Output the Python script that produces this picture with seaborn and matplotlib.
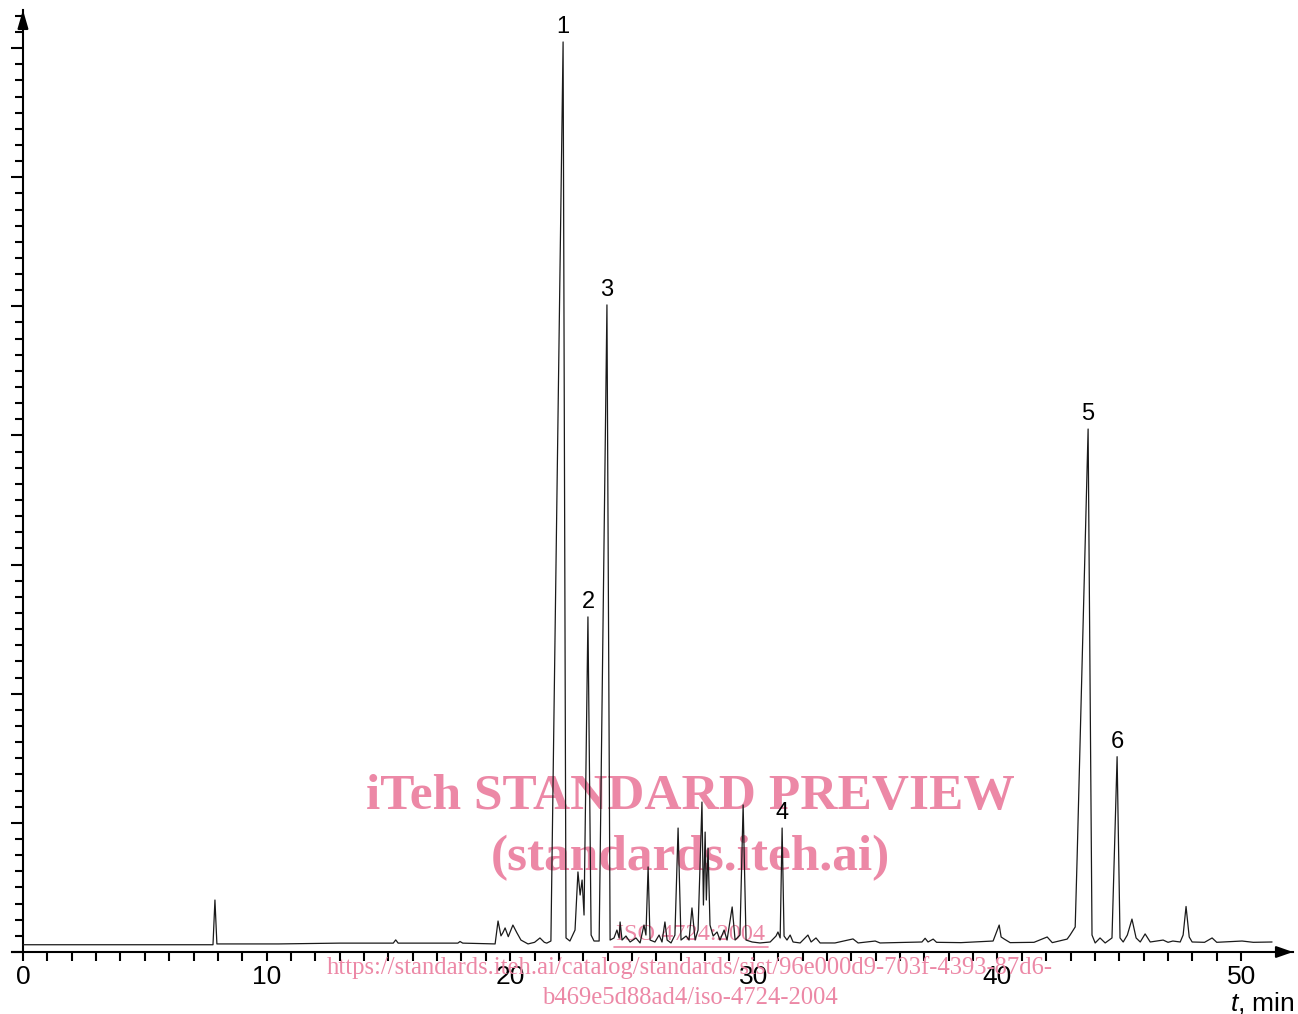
import numpy as np
import pandas as pd
import matplotlib.pyplot as plt
import seaborn as sns
from matplotlib.lines import Line2D
from matplotlib.ticker import MultipleLocator

# retention time (min) and detector signal (arbitrary units, 1 unit = 1 minor tick)
time_min = [
    0.00, 7.80, 7.88, 7.96, 10.50, 13.00, 15.20, 15.30, 15.40, 17.85, 17.94, 18.05,
    19.38, 19.50, 19.62, 19.70, 19.79, 19.92, 20.11, 20.27, 20.44, 20.73, 21.00, 21.22,
    21.40, 21.50, 21.67, 22.17, 22.29, 22.45, 22.66, 22.78, 22.87, 22.95, 23.03, 23.19,
    23.32, 23.44, 23.65, 23.97, 24.10, 24.26, 24.38, 24.47, 24.51, 24.59, 24.75, 24.92,
    25.16, 25.33, 25.49, 25.57, 25.66, 25.74, 25.94, 26.11, 26.23, 26.35, 26.44, 26.60,
    26.76, 26.89, 27.01, 27.22, 27.34, 27.46, 27.59, 27.71, 27.87, 27.93, 28.00, 28.05,
    28.12, 28.20, 28.33, 28.49, 28.61, 28.78, 28.90, 29.11, 29.23, 29.43, 29.56, 29.68,
    29.93, 30.25, 30.67, 30.91, 30.99, 31.08, 31.16, 31.24, 31.36, 31.49, 31.61, 31.90,
    32.22, 32.35, 32.55, 32.72, 33.33, 34.07, 34.28, 34.98, 35.18, 35.80, 36.90, 37.03,
    37.15, 37.36, 37.50, 38.50, 39.82, 40.07, 40.15, 40.28, 40.52, 41.50, 42.04, 42.25,
    42.86, 42.98, 43.19, 43.27, 43.72, 43.88, 44.01, 44.21, 44.42, 44.70, 44.91, 45.03,
    45.16, 45.33, 45.52, 45.69, 45.86, 46.06, 46.27, 46.80, 47.00, 47.20, 47.50, 47.62,
    47.74, 47.87, 47.99, 48.50, 48.81, 49.00, 50.04, 50.50, 51.27,
]
signal = [
    0.45, 0.45, 3.22, 0.50, 0.50, 0.55, 0.55, 0.75, 0.55, 0.55, 0.65, 0.55,
    0.50, 1.92, 1.00, 1.20, 1.49, 0.95, 1.67, 1.20, 0.74, 0.50, 0.60, 0.87,
    0.60, 0.55, 0.68, 56.38, 0.87, 0.68, 1.36, 4.96, 3.53, 4.46, 2.29, 20.76,
    1.05, 0.68, 0.68, 40.09, 0.74, 0.87, 1.36, 0.87, 1.86, 0.74, 0.99, 0.62,
    0.87, 0.56, 1.67, 1.05, 5.27, 0.74, 0.62, 1.05, 0.62, 1.86, 0.74, 0.56,
    1.05, 7.68, 0.74, 0.99, 0.74, 2.73, 0.74, 1.36, 9.29, 2.91, 7.43, 3.22,
    6.44, 1.67, 0.99, 1.24, 0.74, 1.36, 0.74, 2.79, 0.74, 1.05, 9.11, 0.74,
    0.62, 0.56, 0.62, 0.99, 1.24, 0.87, 7.68, 0.99, 0.74, 1.05, 0.62, 0.56,
    1.05, 0.62, 0.87, 0.56, 0.56, 0.81, 0.56, 0.68, 0.56, 0.58, 0.62, 0.85,
    0.62, 0.80, 0.60, 0.58, 0.68, 1.67, 0.93, 0.80, 0.58, 0.60, 0.93, 0.58,
    0.80, 1.05, 1.55, 5.89, 32.40, 1.05, 0.56, 0.87, 0.56, 0.87, 12.10, 0.87,
    0.62, 1.05, 2.04, 0.87, 0.62, 1.12, 0.62, 0.74, 0.60, 0.68, 0.62, 1.05,
    2.82, 0.93, 0.62, 0.60, 0.87, 0.60, 0.68, 0.60, 0.62,
]

# labelled peaks
peak_ids = ["1", "2", "3", "4", "5", "6"]
peak_times = [22.17, 23.19, 23.97, 31.16, 43.72, 44.91]

x_major = [0, 10, 20, 30, 40, 50]

PINK = "#ec88a6"

df = pd.DataFrame({"t": time_min, "s": signal})

sns.set_style("white")
plt.rcParams["font.family"] = ["Liberation Sans", "DejaVu Sans"]
plt.rcParams["text.color"] = "black"
plt.rcParams["mathtext.fontset"] = "custom"
plt.rcParams["mathtext.it"] = "Liberation Sans:italic"
plt.rcParams["mathtext.rm"] = "Liberation Sans"

fig = plt.figure(figsize=(12.98, 10.14), dpi=100)
ax = fig.add_axes([12 / 1298, 1 - 952 / 1014, (1293 - 12) / 1298, (952 - 10) / 1014])
ax.patch.set_alpha(0)

sns.lineplot(data=df, x="t", y="s", ax=ax, estimator=None, color="#1a1a1a",
             lw=0.9, zorder=3)

ax.set_xlim(-0.45, 52.13)
ax.set_ylim(0, 58.36)
ax.set_xlabel("")
ax.set_ylabel("")

# axes drawn as arrows
for side in ["top", "right"]:
    ax.spines[side].set_visible(False)
ax.spines["left"].set_position(("data", 0))
ax.spines["left"].set_linewidth(1.5)
ax.spines["bottom"].set_linewidth(1.5)
ax.spines["left"].set_color("black")
ax.spines["bottom"].set_color("black")
ax.annotate("", xy=(1.0, 0), xycoords=ax.get_yaxis_transform(),
            xytext=(-11, 0), textcoords="offset points",
            arrowprops=dict(arrowstyle="-|>,head_length=1.0,head_width=0.35",
                            color="black", lw=1.5, shrinkA=0, shrinkB=0,
                            mutation_scale=10))
ax.annotate("", xy=(0, 1.0), xycoords=ax.get_xaxis_transform(),
            xytext=(0, -12), textcoords="offset points",
            arrowprops=dict(arrowstyle="-|>,head_length=1.1,head_width=0.32",
                            color="black", lw=1.5, shrinkA=0, shrinkB=0,
                            mutation_scale=10))

ax.xaxis.set_major_locator(plt.FixedLocator(x_major))
ax.xaxis.set_minor_locator(plt.FixedLocator(np.arange(0, 51, 1)))
ax.yaxis.set_minor_locator(MultipleLocator(1))
ax.set_yticks(np.arange(0, 57, 8))
ax.set_yticklabels([])
ax.tick_params(axis="x", which="both", direction="out", length=6.5, width=1.5,
               bottom=True, labelsize=19, pad=3, colors="black")
ax.tick_params(axis="y", which="major", direction="out", length=8.5, width=1.5,
               left=True, colors="black")
ax.tick_params(axis="y", which="minor", direction="out", length=5.5, width=1.5,
               left=True, colors="black")

fig.text(1295 / 1298, 1 - 1010 / 1014, r"$t$, min", fontsize=19,
         ha="right", va="baseline", color="black")

# peak numbers above apexes
for pid, pt in zip(peak_ids, peak_times):
    i = int(np.argmin(np.abs(df["t"].to_numpy() - pt)))
    ax.annotate(pid, xy=(df["t"][i], df["s"][i]), xytext=(0, 3),
                textcoords="offset points", ha="center", va="bottom",
                fontsize=17, color="black")

# watermark
wm = dict(transform=fig.transFigure, ha="center", va="center", color=PINK,
          family="Liberation Serif", clip_on=False, zorder=1)
ax.text(690 / 1298, 1 - 797 / 1014, "iTeh STANDARD PREVIEW", fontsize=37,
        weight="bold", **wm)
ax.text(690 / 1298, 1 - 858 / 1014, "(standards.iteh.ai)", fontsize=37,
        weight="bold", **wm)
ax.text(691 / 1298, 1 - 935 / 1014, "ISO 4724:2004", fontsize=17.5, **wm)
ax.add_line(Line2D([614 / 1298, 768 / 1298], [1 - 947 / 1014, 1 - 947 / 1014],
                   transform=fig.transFigure, color=PINK, lw=1.2, clip_on=False, zorder=1))
ax.text(690 / 1298, 1 - 968 / 1014,
        "https://standards.iteh.ai/catalog/standards/sist/96e000d9-703f-4393-87d6-",
        fontsize=17.7, **wm)
ax.text(690 / 1298, 1 - 998 / 1014, "b469e5d88ad4/iso-4724-2004", fontsize=17.7, **wm)

fig.savefig("out.png", dpi=100)
